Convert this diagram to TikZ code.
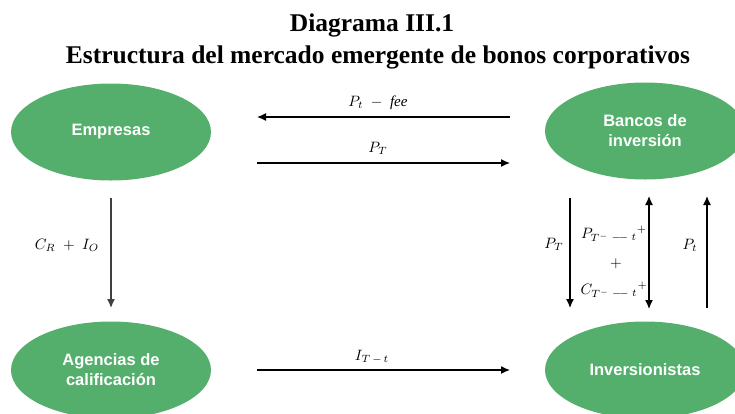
\documentclass[tikz,border=0pt]{standalone}
\usepackage{graphicx}
\usepackage{fontspec}
\setmainfont{Liberation Serif}
\newfontfamily\arialf{Liberation Sans}
\usetikzlibrary{arrows.meta,shapes.geometric}
\definecolor{nodegreen}{RGB}{84,175,108}
\newcommand{\lblm}[1]{\scalebox{1.5}{$#1$}}
\tikzset{
  actor/.style={ellipse, fill=nodegreen, minimum width=200pt, minimum height=97pt,
    inner sep=0pt, text=white, font=\arialf\bfseries\fontsize{16.5}{20}\selectfont, align=center},
  tip/.tip={Latex[length=9pt,width=8pt]},
  flow/.style={line width=1.3pt, -tip},
  lbl/.style={inner sep=0pt},
  ttl/.style={font=\bfseries\fontsize{25.5}{30}\selectfont, inner sep=0pt, anchor=base}
}
\begin{document}
\begin{tikzpicture}[x=1pt,y=-1pt]
\useasboundingbox (0,0) rectangle (735,413);
% title
\node[ttl] (t1) at (372,31) {Diagrama III.1};
\node[ttl] (t2) at (378,63) {Estructura del mercado emergente de bonos corporativos};
% actors
\node[actor] (emp) at (111,132) {Empresas};
\node[actor] (ban) at (645,131) {Bancos de\\inversión};
\node[actor] (age) at (111,370) {Agencias de\\calificación};
\node[actor] (inv) at (645,370) {Inversionistas};
% connector end points
\coordinate (a1s) at (510,117); \coordinate (a1e) at (257,117);
\coordinate (a2s) at (257,163); \coordinate (a2e) at (510,163);
\coordinate (a3s) at (257,370); \coordinate (a3e) at (510,370);
\coordinate (a4s) at (111,198); \coordinate (a4e) at (111,308);
\coordinate (a5s) at (570,198); \coordinate (a5e) at (570,308);
\coordinate (a6s) at (649,196); \coordinate (a6e) at (649,309);
\coordinate (a7s) at (707,308); \coordinate (a7e) at (707,196);
% connectors
\draw[flow] (a1s) -- (a1e);
\draw[flow] (a2s) -- (a2e);
\draw[flow] (a3s) -- (a3e);
\draw[flow, draw=black!75, fill=black!75] (a4s) -- (a4e);
\draw[flow] (a5s) -- (a5e);
\draw[line width=1.3pt, tip-tip] (a6s) -- (a6e);
\draw[flow] (a7s) -- (a7e);
% labels
\node[lbl] (l1) at (378,103) {\lblm{P_t\;-\;\mathit{fee}}};
\node[lbl] (l2) at (378,148) {\lblm{P_T}};
\node[lbl] (l3) at (372,357) {\lblm{I_{T\,-\,t}}};
\node[lbl] (l4) at (67,245) {\lblm{C_R\;+\;I_O}};
\node[lbl] (l5) at (554,244) {\lblm{P_T}};
\node[lbl] (l6) at (614,234) {\lblm{P_{T^-}\,{}_{-\!-\;t}{}^{+}}};
\node[lbl] (l7) at (616,264) {\lblm{+}};
\node[lbl] (l8) at (614,290) {\lblm{C_{T^-}\,{}_{-\!-\;t}{}^{+}}};
\node[lbl] (l9) at (690,245) {\lblm{P_t}};
\end{tikzpicture}
\end{document}
